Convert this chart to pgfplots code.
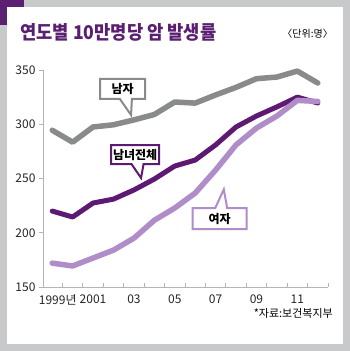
\documentclass[border=0pt]{standalone}
\usepackage{fontspec}
\setmainfont{Noto Sans CJK KR}
\usepackage{pgfplots}
\pgfplotsset{compat=1.18}
\usetikzlibrary{shapes.callouts}
\definecolor{bggray}{HTML}{C8C9CB}
\definecolor{titlepurple}{HTML}{5B1F72}
\definecolor{darkp}{HTML}{5E1A73}
\definecolor{lightp}{HTML}{B08DC9}
\definecolor{linegray}{HTML}{898A8C}
\definecolor{axgray}{HTML}{B4B4B4}
\begin{document}
\begin{tikzpicture}
\fill[bggray] (0pt,0pt) rectangle (350pt,-351pt);
\fill[white] (7pt,-7pt) rectangle (343pt,-344pt);
\fill[titlepurple] (0pt,0pt) rectangle (24pt,-7pt);
\fill[titlepurple] (0pt,0pt) rectangle (7pt,-25pt);
\node[anchor=west, text=titlepurple, font=\fontsize{19}{19}\selectfont\bfseries, inner sep=0] at (20pt,-32.5pt) {\scalebox{0.93}[1]{연도별 10만명당 암 발생률}};
\node[anchor=east, font=\fontsize{10}{10}\selectfont, inner sep=0] at (333pt,-34pt) {〈단위:명〉};
\node[anchor=east, font=\fontsize{11}{11}\selectfont, inner sep=0] at (333pt,-313pt) {*자료:보건복지부};
\begin{axis}[at={(43pt,-287pt)}, anchor=south west, width=285pt, height=217pt, scale only axis,
  xmin=1998.55, xmax=2012.5, ymin=150, ymax=350,
  axis lines*=left,
  axis line style={axgray, line width=0.8pt},
  ytick={150,200,250,300,350}, yticklabels={150,200,250,300,350},
  xtick={1999,2001,2003,2005,2007,2009,2011},
  xticklabels={1999\rlap{년},2001,03,05,07,09,11},
  major x tick style={draw=none},
  minor xtick={1999.5,2000.5,2001.5,2002.5,2003.5,2004.5,2005.5,2006.5,2007.5,2008.5,2009.5,2010.5,2011.5,2012.5},
  tick align=outside, major tick length=4pt, minor tick length=4pt,
  minor x tick style={axgray, line width=0.8pt, yshift=4pt},
  major y tick style={axgray, line width=0.8pt},
  tick label style={font=\fontsize{12}{12}\selectfont, text=black!85},
  clip=false]
\addplot[linegray, line width=5.5pt, line join=round, line cap=round] coordinates {
(1999,294.5) (2000,283.5) (2001,297.5) (2002,299.5) (2003,304) (2004,309) (2005,320.5) (2006,319.5) (2007,327) (2008,334) (2009,342) (2010,343.5) (2011,349) (2012,338)};
\addplot[darkp, line width=5pt, line join=round, line cap=round] coordinates {
(1999,220) (2000,214.5) (2001,227.4) (2002,231) (2003,239.4) (2004,249.5) (2005,261.5) (2006,267) (2007,281) (2008,297.5) (2009,307.6) (2010,316) (2011,325) (2012,319.6)};
\addplot[lightp, line width=5.5pt, line join=round, line cap=round] coordinates {
(1999,172) (2000,169.4) (2001,176.7) (2002,184) (2003,195) (2004,211.5) (2005,222.8) (2006,236.6) (2007,257.8) (2008,281) (2009,296.5) (2010,307.6) (2011,322) (2012,321)};
\node[rectangle callout, draw=linegray, line width=2pt, fill=white, minimum width=45pt, minimum height=20pt, inner sep=0pt, font=\fontsize{12}{12}\selectfont\bfseries, callout absolute pointer={(axis cs:2002.86,308.5)}, callout pointer width=12pt] at (axis cs:2002.45,332.5) {남자};
\node[rectangle callout, draw=darkp, line width=2pt, fill=white, minimum width=48pt, minimum height=19pt, inner sep=0pt, font=\fontsize{12}{12}\selectfont\bfseries, callout absolute pointer={(axis cs:2003.35,250.5)}, callout pointer width=12pt] at (axis cs:2003.06,272) {남녀전체};
\node[rectangle callout, draw=lightp, line width=2pt, fill=white, minimum width=54pt, minimum height=21pt, inner sep=0pt, font=\fontsize{12}{12}\selectfont\bfseries, callout absolute pointer={(axis cs:2007.4,240)}, callout pointer width=12pt] at (axis cs:2007.2,213) {여자};
\end{axis}
\end{tikzpicture}
\end{document}
